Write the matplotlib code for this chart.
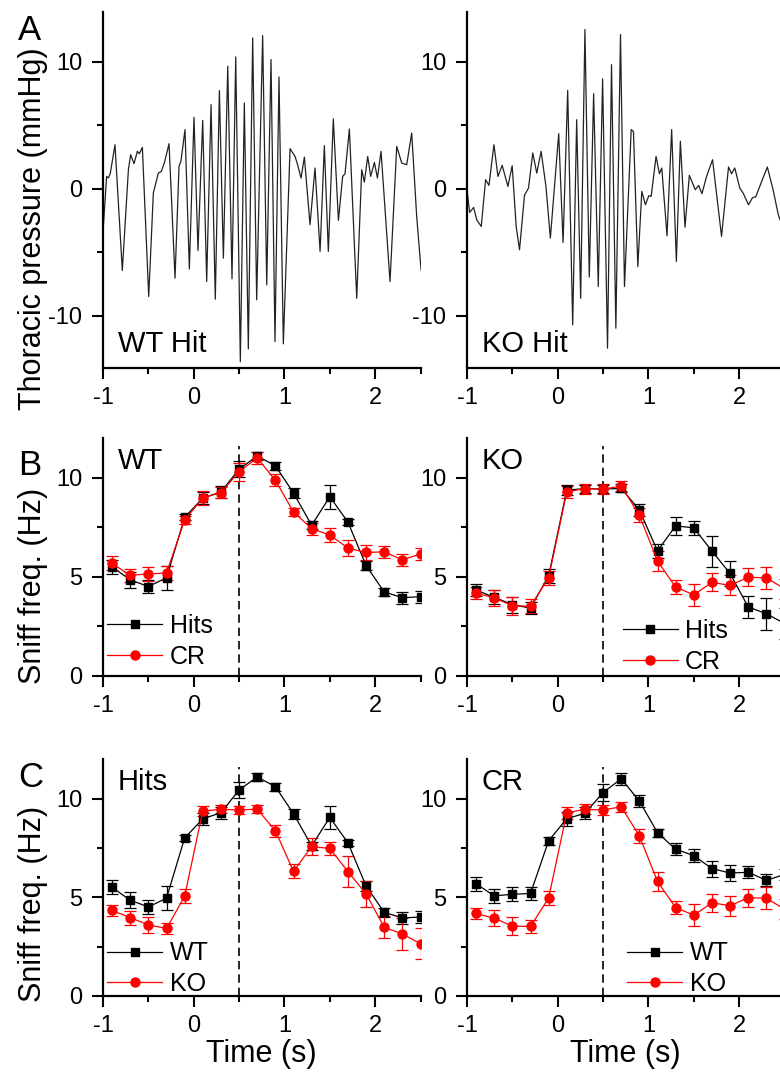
import numpy as np
import matplotlib.pyplot as plt
from matplotlib.ticker import MultipleLocator

plt.rcParams['font.family'] = ['Liberation Sans', 'DejaVu Sans']
plt.rcParams['axes.unicode_minus'] = False

# --- panel A: thoracic pressure traces (turning points) ---
wt_t = [-1.0, -0.996, -0.96, -0.94, -0.92, -0.868, -0.787, -0.72, -0.695, -0.658, -0.621,
        -0.60, -0.566, -0.496, -0.445, -0.39, -0.357, -0.324, -0.272, -0.206, -0.162,
        -0.14, -0.096, -0.048, 0.003, 0.047, 0.099, 0.143, 0.191, 0.238, 0.283, 0.327,
        0.375, 0.422, 0.463, 0.514, 0.558, 0.602, 0.650, 0.694, 0.760, 0.805, 0.852,
        0.896, 0.940, 0.988, 1.062, 1.117, 1.145, 1.183, 1.220, 1.282, 1.337, 1.393,
        1.440, 1.484, 1.539, 1.595, 1.642, 1.668, 1.716, 1.797, 1.852, 1.881, 1.918,
        1.951, 1.992, 2.025, 2.065, 2.164, 2.238, 2.293, 2.348, 2.403, 2.458, 2.506]
wt_p = [-3.3, -2.97, 0.97, 0.85, 1.2, 3.46, -6.43, 1.5, 2.68, 1.97, 2.95,
        2.75, 3.25, -8.48, -0.34, 1.23, 1.36, 2.02, 3.54, -7.03, 1.76,
        2.2, 4.65, -6.32, 5.61, -4.86, 5.38, -7.3, 6.61, -8.69, 7.72, -5.46,
        9.63, -7.09, 10.37, -13.6, 6.75, -12.6, 11.86, -8.74, 12.05, -7.56, 10.16,
        -12.02, 8.79, -12.2, 3.15, 2.54, 1.9, 0.84, 2.49, -2.83, 1.63, -4.93,
        3.39, -4.93, 5.49, -2.49, 0.97, 1.18, 4.70, -8.61, 1.5, 0.52, 2.54,
        0.97, 2.07, 0.84, 2.94, -7.3, 3.33, 2.02, 1.89, 4.38, -2.18, -6.38]

ko_t = [-1.0, -0.971, -0.927, -0.893, -0.843, -0.795, -0.758, -0.703, -0.659, -0.612,
        -0.549, -0.502, -0.458, -0.421, -0.366, -0.322, -0.275, -0.231, -0.183, -0.13,
        -0.081, 0.011, 0.059, 0.110, 0.165, 0.209, 0.253, 0.300, 0.348, 0.396, 0.447,
        0.495, 0.549, 0.593, 0.641, 0.692, 0.736, 0.810, 0.835, 0.883, 0.927, 0.967,
        1.004, 1.03, 1.084, 1.121, 1.147, 1.205, 1.256, 1.308, 1.352, 1.403, 1.451,
        1.516, 1.553, 1.590, 1.641, 1.707, 1.806, 1.883, 1.916, 1.952, 2.007, 2.044,
        2.103, 2.147, 2.183, 2.25, 2.311, 2.374, 2.432, 2.5]
ko_p = [-0.1, -1.86, -1.47, -2.44, -2.97, 0.71, 0.26, 3.46, 0.97, 1.84,
        0.18, 1.81, -2.97, -4.8, -0.5, 0.05, 2.81, 1.23, 2.94, 0.2,
        -3.88, 4.33, -4.23, 7.74, -10.7, 5.43, -8.61, 12.52, -6.95, 7.48, -7.69,
        8.64, -12.54, 9.76, -10.97, 12.13, -7.69, 4.65, 4.5, -6.12, -0.21, -1.26,
        -0.55, -0.6, 2.54, 1.18, 1.63, -3.7, 4.65, -5.72, 3.73, -3.02, 1.05,
        -0.08, 0.26, -0.39, 0.97, 2.28, -3.75, 1.71, 1.18, 1.63, 0.05, -0.34,
        -1.26, -0.71, -0.63, 0.6, 1.71, -0.08, -2.05, -3.4]

# --- panels B/C: sniff frequency, mean and s.e.m. ---
time_bins = [-0.9, -0.7, -0.5, -0.3, -0.1, 0.1, 0.3, 0.5, 0.7, 0.9,
             1.1, 1.3, 1.5, 1.7, 1.9, 2.1, 2.3, 2.5]
wt_hits = [5.5, 4.85, 4.51, 4.95, 8.0, 8.97, 9.28, 10.43, 11.09, 10.6,
           9.23, 7.6, 9.04, 7.76, 5.57, 4.24, 3.95, 4.0]
wt_hits_err = [0.35, 0.4, 0.35, 0.6, 0.15, 0.3, 0.3, 0.4, 0.22, 0.2,
               0.25, 0.2, 0.6, 0.15, 0.25, 0.22, 0.3, 0.3]
wt_cr = [5.68, 5.07, 5.15, 5.19, 7.86, 8.98, 9.25, 10.3, 11.0, 9.87,
         8.27, 7.43, 7.11, 6.45, 6.23, 6.26, 5.86, 6.15]
wt_cr_err = [0.35, 0.35, 0.35, 0.35, 0.2, 0.35, 0.3, 0.45, 0.3, 0.3,
             0.2, 0.3, 0.35, 0.4, 0.4, 0.3, 0.3, 0.3]
ko_hits = [4.33, 3.97, 3.6, 3.42, 5.05, 9.37, 9.45, 9.42, 9.46, 8.37,
           6.31, 7.57, 7.47, 6.3, 5.17, 3.48, 3.14, 2.65]
ko_hits_err = [0.3, 0.35, 0.4, 0.3, 0.35, 0.25, 0.2, 0.2, 0.2, 0.3,
               0.35, 0.45, 0.35, 0.78, 0.65, 0.55, 0.8, 0.8]
ko_cr = [4.18, 3.94, 3.54, 3.52, 4.96, 9.28, 9.45, 9.42, 9.58, 8.11,
         5.8, 4.48, 4.09, 4.72, 4.57, 4.98, 4.95, 4.4]
ko_cr_err = [0.3, 0.4, 0.45, 0.35, 0.35, 0.3, 0.25, 0.25, 0.25, 0.35,
             0.5, 0.35, 0.55, 0.45, 0.5, 0.45, 0.55, 0.5]

fig = plt.figure(figsize=(7.8, 10.76), dpi=100)

xl, w = 103 / 780, 317.5 / 780
xr = 467 / 780
rows = [(1 - 368 / 1076, 356 / 1076), (1 - 676 / 1076, 238 / 1076), (1 - 996 / 1076, 237 / 1076)]

axes = {}
for r, (b, h) in enumerate(rows):
    axes[(r, 0)] = fig.add_axes([xl, b, w, h])
    axes[(r, 1)] = fig.add_axes([xr, b, w, h])


def style(ax):
    for s in ['top', 'right']:
        ax.spines[s].set_visible(False)
    for s in ['left', 'bottom']:
        ax.spines[s].set_linewidth(1.6)
    ax.set_xlim(-1, 2.5)
    ax.xaxis.set_major_locator(MultipleLocator(1))
    ax.xaxis.set_minor_locator(MultipleLocator(0.5))
    ax.tick_params(which='major', direction='out', length=8, width=1.5, labelsize=17)
    ax.tick_params(which='minor', direction='out', length=4.5, width=1.5)
    ax.tick_params(axis='x', which='major', pad=6)
    ax.tick_params(axis='y', which='major', pad=7)


# row A
for c, (t, p, lab) in enumerate([(wt_t, wt_p, 'WT Hit'), (ko_t, ko_p, 'KO Hit')]):
    ax = axes[(0, c)]
    style(ax)
    ax.plot(t, p, color='#222222', lw=0.9)
    ax.set_ylim(-14.1, 13.9)
    ax.yaxis.set_major_locator(MultipleLocator(10))
    ax.yaxis.set_minor_locator(MultipleLocator(5))
    ax.text(0.047, 0.045, lab, transform=ax.transAxes, fontsize=21, va='baseline')


def freq_panel(ax, y1, e1, y2, e2, lab1, lab2, title, leg_x, leg_y):
    style(ax)
    ax.set_ylim(0, 12)
    ax.yaxis.set_major_locator(MultipleLocator(5))
    ax.yaxis.set_minor_locator(MultipleLocator(2.5))
    ax.vlines(0.5, 0, 11.6, colors='black', linestyles=(0, (5, 3)), lw=1.2)
    h1 = ax.errorbar(time_bins, y1, yerr=e1, color='black', marker='s', ms=5.5,
                     lw=0.9, elinewidth=0.9, capsize=4, capthick=0.9)
    h2 = ax.errorbar(time_bins, y2, yerr=e2, color='red', marker='o', ms=6.5,
                     lw=0.9, elinewidth=0.9, capsize=4, capthick=0.9)
    ax.text(0.047, 0.87, title, transform=ax.transAxes, fontsize=21, va='baseline')
    ax.legend([h1[0], h2[0]], [lab1, lab2], loc='lower left', bbox_to_anchor=(leg_x, leg_y),
              frameon=False, fontsize=18, handlelength=2.2, handletextpad=0.3,
              labelspacing=0.27, borderpad=0, borderaxespad=0)


freq_panel(axes[(1, 0)], wt_hits, wt_hits_err, wt_cr, wt_cr_err, 'Hits', 'CR', 'WT', 0.013, 0.03)
freq_panel(axes[(1, 1)], ko_hits, ko_hits_err, ko_cr, ko_cr_err, 'Hits', 'CR', 'KO', 0.49, 0.01)
freq_panel(axes[(2, 0)], wt_hits, wt_hits_err, ko_hits, ko_hits_err, 'WT', 'KO', 'Hits', 0.013, 0.0)
freq_panel(axes[(2, 1)], wt_cr, wt_cr_err, ko_cr, ko_cr_err, 'WT', 'KO', 'CR', 0.505, 0.0)

axes[(2, 0)].set_xlabel('Time (s)', fontsize=22, labelpad=1)
axes[(2, 1)].set_xlabel('Time (s)', fontsize=22, labelpad=1)

axes[(0, 0)].set_ylabel('Thoracic pressure (mmHg)', fontsize=22, va='center')
axes[(0, 0)].yaxis.set_label_coords(-0.222, 0.39)
axes[(1, 0)].set_ylabel('Sniff freq. (Hz)', fontsize=22, va='center')
axes[(1, 0)].yaxis.set_label_coords(-0.222, 0.38)
axes[(2, 0)].set_ylabel('Sniff freq. (Hz)', fontsize=22, va='center')
axes[(2, 0)].yaxis.set_label_coords(-0.222, 0.39)

for letter, ypix in [('A', 40), ('B', 475), ('C', 787)]:
    fig.text(18 / 780, 1 - ypix / 1076, letter, fontsize=25, va='baseline')

fig.savefig('out.png', dpi=100)
